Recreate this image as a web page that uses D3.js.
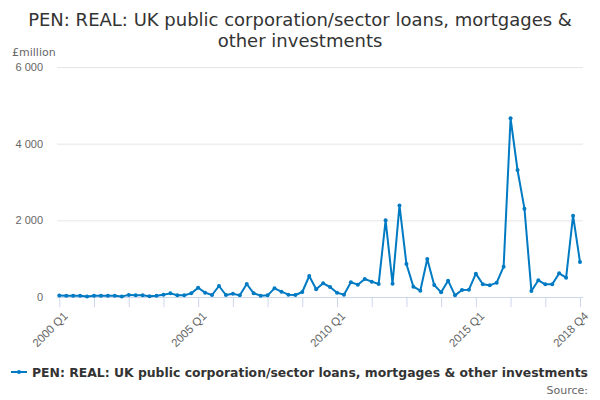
<!DOCTYPE html>
<html><head><meta charset="utf-8">
<script src="https://cdn.jsdelivr.net/npm/d3@7/dist/d3.min.js"></script>
<style>body{margin:0;background:#fff;}svg{display:block;font-family:"DejaVu Sans",sans-serif;}</style>
</head><body><svg id="c" width="600" height="400"></svg>
<script>
const years = d3.range(2000, 2019);
const quarters = ["Q1","Q2","Q3","Q4"];
const categories = years.flatMap(y => quarters.map(q => y + " " + q));
const values = [
  40, 35, 30, 30, 15, 30, 30, 30, 30, 15,
  55, 45, 45, 20, 35, 60, 95, 45, 45, 95,
  240, 113, 52, 287, 52, 87, 43, 339, 96, 35,
  43, 226, 139, 61, 52, 130, 548, 200, 357, 261,
  113, 61, 383, 322, 470, 400, 340, 2000, 348, 2390,
  861, 270, 165, 991, 313, 122, 426, 43, 183, 191,
  609, 331, 304, 374, 791, 4661, 3313, 2304, 157, 435,
  331, 331, 617, 504, 2122, 913
];
const yTicks = [0, 2000, 4000, 6000];
const labelCats = ["2000 Q1", "2005 Q1", "2010 Q1", "2015 Q1", "2018 Q4"];
const seriesName = "PEN: REAL: UK public corporation/sector loans, mortgages & other investments";
const titleLines = ["PEN: REAL: UK public corporation/sector loans, mortgages &", "other investments"];

const svg = d3.select("#c");
const color = "#007ac3";
const x = d3.scaleLinear().domain([0, categories.length - 1]).range([59.3, 580]);
const y = d3.scaleLinear().domain([0, 6000]).range([297, 67]);

// title
svg.append("text").attr("x", 300).attr("y", 26).attr("text-anchor", "middle")
  .attr("fill", "#333").attr("font-size", 18)
  .selectAll("tspan").data(titleLines).join("tspan")
  .attr("x", 300).attr("dy", (d, i) => i ? 21 : 0).text(d => d);

// y unit
svg.append("text").attr("x", 12).attr("y", 56).attr("fill", "#666").attr("font-size", 11).text("£million");

// grid + y labels
const fmt = v => d3.format(",")(v).replace(/,/g, " ");
const yAxis = d3.axisLeft(y).tickValues(yTicks).tickSize(-(583 - 57)).tickFormat(fmt);
const gy = svg.append("g").attr("transform", "translate(57,0)").call(yAxis);
gy.select(".domain").remove();
gy.selectAll(".tick line").attr("stroke", "#e6e6e6");
gy.selectAll(".tick text").attr("fill", "#666").attr("font-size", 11).attr("x", -14).attr("dy", "0.32em");

// x axis
const tickIdx = d3.range(0, categories.length, 5);
const xAxis = d3.axisBottom(x).tickValues(tickIdx).tickSize(10)
  .tickFormat(i => labelCats.includes(categories[i]) ? categories[i] : "");
const gx = svg.append("g").attr("transform", "translate(0,297)").call(xAxis);
gx.select(".domain").attr("stroke", "#ccd6eb").attr("d", "M57,0.5H583");
gx.selectAll(".tick line").attr("stroke", "#ccd6eb");
gx.selectAll(".tick text").attr("fill", "#666").attr("font-size", 11.5)
  .attr("text-anchor", "end").attr("transform", "translate(6,17) rotate(-45)").attr("y", 0).attr("dy", "0.32em");

// line
const line = d3.line().x((d, i) => x(i)).y(d => y(d));
svg.append("path").datum(values).attr("d", line).attr("fill", "none")
  .attr("stroke", color).attr("stroke-width", 2).attr("stroke-linejoin", "round");
svg.append("g").selectAll("circle").data(values).join("circle")
  .attr("cx", (d, i) => x(i)).attr("cy", d => y(d)).attr("r", 2).attr("fill", color);

// legend
const lg = svg.append("g");
lg.append("line").attr("x1", 11).attr("x2", 27).attr("y1", 372).attr("y2", 372).attr("stroke", color).attr("stroke-width", 2);
lg.append("circle").attr("cx", 19).attr("cy", 372).attr("r", 2).attr("fill", color);
lg.append("text").attr("x", 32).attr("y", 376.5).attr("fill", "#333").attr("font-size", 12.4).attr("font-weight", "bold").text(seriesName);

svg.append("text").attr("x", 588).attr("y", 394).attr("text-anchor", "end").attr("fill", "#666").attr("font-size", 11).text("Source:");
</script></body></html>
